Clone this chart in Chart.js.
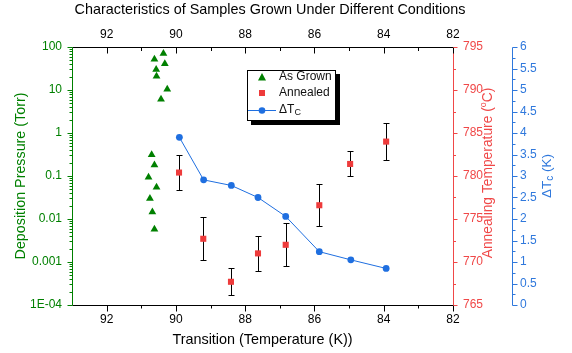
<!DOCTYPE html>
<html lang="en">
<head>
  <meta charset="UTF-8" />
  <title>Characteristics of Samples Grown Under Different Conditions</title>
  <script src="https://cdn.jsdelivr.net/npm/chart.js"></script>
  <style>
    body { margin: 0; background: #fff; }
    #wrap { width: 572px; height: 353px; }
  </style>
</head>
<body>
  <div id="wrap"><canvas id="chart" width="572" height="353"></canvas></div>
  <script>
    // As Grown: transition temperature (K) vs deposition pressure (Torr)
    const grownT = [90.36, 90.62, 90.32, 90.57, 90.56, 90.25, 90.43, 90.70, 90.62, 90.79, 90.56, 90.75, 90.68, 90.62];
    const grownP = [71, 52, 41, 30, 21, 10.4, 6.1, 0.31, 0.18, 0.093, 0.055, 0.030, 0.0146, 0.0058];

    // Annealed: annealing temperature (°C) with error bars
    const annealT = [89.91, 89.21, 88.41, 87.63, 86.83, 85.86, 84.97, 83.93];
    const annealTemp = [780.4, 772.7, 767.7, 771.0, 772.0, 776.6, 781.4, 784.0];
    const annealErr = [2.05, 2.5, 1.55, 2.0, 2.5, 2.45, 1.45, 2.15];

    // ΔTc (K)
    const dtcT = [89.90, 89.20, 88.40, 87.63, 86.83, 85.86, 84.95, 83.93];
    const dtcVal = [3.9, 2.91, 2.78, 2.5, 2.06, 1.24, 1.05, 0.85];

    // axis ticks
    const xTicks = [82, 84, 86, 88, 90, 92];
    const xMinor = [83, 85, 87, 89, 91];
    const pTicks = [1e-4, 1e-3, 1e-2, 0.1, 1, 10, 100];
    const pLabels = ['1E-04', '0.001', '0.01', '0.1', '1', '10', '100'];
    const annTicks = [765, 770, 775, 780, 785, 790, 795];
    const annMinor = [767.5, 772.5, 777.5, 782.5, 787.5, 792.5];
    const dtcTicks = [0, 0.5, 1, 1.5, 2, 2.5, 3, 3.5, 4, 4.5, 5, 5.5, 6];
    const dtcMinor = [0.25, 0.75, 1.25, 1.75, 2.25, 2.75, 3.25, 3.75, 4.25, 4.75, 5.25, 5.75];

    const GREEN = '#008000';
    const RED = '#f04848';
    const RED_MARK = '#ee3b3b';
    const BLUE = '#2f78dc';
    const BLUE_MARK = '#1f6fe0';
    const FONT = 'Arial, "Liberation Sans", sans-serif';

    Chart.defaults.font.family = FONT;
    Chart.defaults.font.size = 12;

    const fixTicks = vals => s => { s.ticks = vals.map(v => ({ value: v })); };

    // text with sub/superscript pieces, optionally rotated
    function richText(ctx, x, y, segs, rot, color) {
      ctx.save();
      ctx.translate(x, y);
      ctx.rotate(rot);
      ctx.fillStyle = color;
      ctx.textBaseline = 'middle';
      ctx.textAlign = 'left';
      let total = 0;
      segs.forEach(s => { ctx.font = s.size + 'px ' + FONT; s.w = ctx.measureText(s.t).width; total += s.w; });
      let cx = -total / 2;
      segs.forEach(s => {
        ctx.font = s.size + 'px ' + FONT;
        ctx.fillText(s.t, cx, s.dy || 0);
        cx += s.w;
      });
      ctx.restore();
    }

    function hTicks(ctx, scale, vals, base, len, color) {
      ctx.strokeStyle = color;
      ctx.beginPath();
      vals.forEach(v => {
        const p = Math.round(scale.getPixelForValue(v)) + 0.5;
        ctx.moveTo(p, base);
        ctx.lineTo(p, base + len);
      });
      ctx.stroke();
    }

    function vTicks(ctx, scale, vals, base, len, color) {
      ctx.strokeStyle = color;
      ctx.beginPath();
      vals.forEach(v => {
        const p = Math.round(scale.getPixelForValue(v)) + 0.5;
        ctx.moveTo(base, p);
        ctx.lineTo(base + len, p);
      });
      ctx.stroke();
    }

    const decor = {
      id: 'decor',
      beforeDatasetsDraw(chart) {
        const { ctx, scales } = chart;
        ctx.save();
        ctx.strokeStyle = '#000';
        ctx.lineWidth = 1;
        ctx.beginPath();
        annealT.forEach((t, i) => {
          const x = Math.round(scales.x.getPixelForValue(t)) + 0.5;
          const y1 = Math.round(scales.y2.getPixelForValue(annealTemp[i] + annealErr[i])) + 0.5;
          const y2 = Math.round(scales.y2.getPixelForValue(annealTemp[i] - annealErr[i])) + 0.5;
          ctx.moveTo(x, y1); ctx.lineTo(x, y2);
          ctx.moveTo(x - 3, y1); ctx.lineTo(x + 3, y1);
          ctx.moveTo(x - 3, y2); ctx.lineTo(x + 3, y2);
        });
        ctx.stroke();
        ctx.restore();
      },
      afterDraw(chart) {
        const { ctx, scales, chartArea: a } = chart;
        const L = a.left + 0.5, R = a.right + 0.5, T = a.top + 0.5, B = a.bottom + 0.5;
        const BX = Math.round(scales.y3.left) + 0.5;
        ctx.save();
        ctx.lineWidth = 1;

        // axis lines
        ctx.strokeStyle = '#000';
        ctx.beginPath();
        ctx.moveTo(L, T); ctx.lineTo(R, T);
        ctx.moveTo(L, B); ctx.lineTo(R, B);
        ctx.stroke();
        ctx.strokeStyle = GREEN;
        ctx.beginPath(); ctx.moveTo(L, T); ctx.lineTo(L, B); ctx.stroke();
        ctx.strokeStyle = RED;
        ctx.beginPath(); ctx.moveTo(R, T); ctx.lineTo(R, B); ctx.stroke();
        ctx.strokeStyle = BLUE;
        ctx.beginPath(); ctx.moveTo(BX, T); ctx.lineTo(BX, B); ctx.stroke();

        // tick marks
        hTicks(ctx, scales.x, xTicks, T, 6, '#000');
        hTicks(ctx, scales.x, xMinor, T, 3.5, '#000');
        hTicks(ctx, scales.x, xTicks, B, 6, '#000');
        hTicks(ctx, scales.x, xMinor, B, 3, '#000');

        const pMinor = [];
        for (let e = -4; e < 2; e++) for (let m = 2; m < 10; m++) pMinor.push(m * Math.pow(10, e));
        vTicks(ctx, scales.y, pTicks, L, -5, GREEN);
        vTicks(ctx, scales.y, pMinor, L, -3, GREEN);
        vTicks(ctx, scales.y2, annTicks, R, 4, RED);
        vTicks(ctx, scales.y2, annMinor, R, 2.5, RED);
        vTicks(ctx, scales.y3, dtcTicks, BX, 5, BLUE);
        vTicks(ctx, scales.y3, dtcMinor, BX, 3, BLUE);

        // titles
        const cy = (a.top + a.bottom) / 2;
        richText(ctx, 270, 10, [{ t: 'Characteristics of Samples Grown Under Different Conditions', size: 14.4 }], 0, '#000');
        richText(ctx, (a.left + a.right) / 2, 340, [{ t: 'Transition (Temperature (K))', size: 14.4 }], 0, '#000');
        richText(ctx, 21, cy, [{ t: 'Deposition Pressure (Torr)', size: 14.3 }], -Math.PI / 2, GREEN);
        richText(ctx, 488, cy - 3, [
          { t: 'Annealing Temperature (', size: 13.8 },
          { t: 'o', size: 9, dy: -4 },
          { t: 'C)', size: 13.8 }
        ], -Math.PI / 2, RED);
        richText(ctx, 547, cy, [
          { t: '\u0394T', size: 13.5 },
          { t: 'c', size: 10, dy: 3 },
          { t: ' (K)', size: 13.5 }
        ], -Math.PI / 2, BLUE);

        // legend box
        ctx.fillStyle = '#000';
        ctx.fillRect(251, 74, 89, 51);
        ctx.fillStyle = '#fff';
        ctx.fillRect(247, 70, 89, 51);
        ctx.strokeStyle = '#000';
        ctx.strokeRect(247.5, 70.5, 88, 50);

        ctx.fillStyle = GREEN;
        ctx.beginPath();
        ctx.moveTo(262, 73); ctx.lineTo(266, 80.5); ctx.lineTo(258, 80.5); ctx.closePath();
        ctx.fill();
        ctx.fillStyle = RED_MARK;
        ctx.fillRect(259, 90, 6, 6);
        ctx.strokeStyle = BLUE_MARK;
        ctx.beginPath(); ctx.moveTo(248, 110.5); ctx.lineTo(276, 110.5); ctx.stroke();
        ctx.fillStyle = BLUE_MARK;
        ctx.beginPath(); ctx.arc(262, 110.5, 3.3, 0, Math.PI * 2); ctx.fill();

        ctx.fillStyle = '#111';
        ctx.font = '12px ' + FONT;
        ctx.textBaseline = 'middle';
        ctx.textAlign = 'left';
        ctx.fillText('As Grown', 279, 77);
        ctx.fillText('Annealed', 279, 93);
        richText(ctx, 279 + 11, 110, [{ t: '\u0394T', size: 12 }, { t: 'C', size: 9, dy: 3 }], 0, '#111');
        ctx.restore();
      }
    };

    new Chart(document.getElementById('chart'), {
      type: 'scatter',
      data: {
        datasets: [
          {
            label: 'As Grown',
            data: grownT.map((t, i) => ({ x: t, y: grownP[i] })),
            xAxisID: 'x', yAxisID: 'y',
            pointStyle: 'triangle',
            pointRadius: 4.5,
            pointBorderWidth: 0,
            backgroundColor: GREEN,
            borderColor: GREEN
          },
          {
            label: 'Annealed',
            data: annealT.map((t, i) => ({ x: t, y: annealTemp[i] })),
            xAxisID: 'x', yAxisID: 'y2',
            pointStyle: 'rect',
            pointRadius: 4.3,
            pointBorderWidth: 0,
            backgroundColor: RED_MARK,
            borderColor: RED_MARK
          },
          {
            label: '\u0394Tc',
            data: dtcT.map((t, i) => ({ x: t, y: dtcVal[i] })),
            xAxisID: 'x', yAxisID: 'y3',
            showLine: true,
            borderWidth: 1,
            pointRadius: 3.4,
            pointBorderWidth: 0,
            backgroundColor: BLUE_MARK,
            borderColor: BLUE_MARK
          }
        ]
      },
      options: {
        responsive: false,
        animation: false,
        layout: { padding: 0 },
        plugins: { legend: { display: false }, tooltip: { enabled: false } },
        scales: {
          x: {
            type: 'linear', position: 'bottom', min: 82, max: 93, reverse: true,
            afterBuildTicks: fixTicks(xTicks),
            afterFit: s => { s.height = 48; },
            grid: { display: false, drawTicks: false }, border: { display: false },
            ticks: { color: '#000', padding: 7, maxRotation: 0, autoSkip: false }
          },
          x2: {
            type: 'linear', position: 'top', min: 82, max: 93, reverse: true,
            afterBuildTicks: fixTicks(xTicks),
            afterFit: s => { s.height = 47; },
            grid: { display: false, drawTicks: false }, border: { display: false },
            ticks: { color: '#000', padding: 5, maxRotation: 0, autoSkip: false }
          },
          y: {
            type: 'logarithmic', position: 'left', min: 1e-4, max: 100,
            afterBuildTicks: fixTicks(pTicks),
            afterFit: s => { s.width = 72; },
            grid: { display: false, drawTicks: false }, border: { display: false },
            ticks: { color: GREEN, padding: 10, autoSkip: false, callback: (v, i) => pLabels[i] }
          },
          y2: {
            type: 'linear', position: 'right', min: 765, max: 795, weight: 0,
            afterBuildTicks: fixTicks(annTicks),
            afterFit: s => { s.width = 59; },
            grid: { display: false, drawTicks: false }, border: { display: false },
            ticks: { color: RED, padding: 10, autoSkip: false }
          },
          y3: {
            type: 'linear', position: 'right', min: 0, max: 6, weight: 1,
            afterBuildTicks: fixTicks(dtcTicks),
            afterFit: s => { s.width = 60; },
            grid: { display: false, drawTicks: false }, border: { display: false },
            ticks: { color: BLUE, padding: 8, autoSkip: false, callback: v => String(v) }
          }
        }
      },
      plugins: [decor]
    });
  </script>
</body>
</html>
